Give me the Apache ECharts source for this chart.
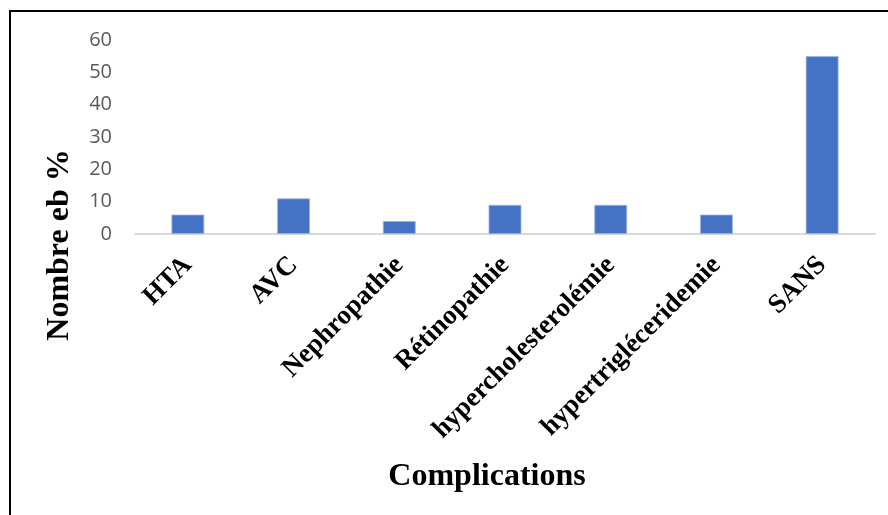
<!DOCTYPE html>
<html>
<head>
<meta charset="utf-8">
<script src="https://cdn.jsdelivr.net/npm/echarts@6/dist/echarts.min.js"></script>
<style>
  html, body { margin: 0; padding: 0; background: #fff; }
  #chart { width: 888px; height: 515px; }
</style>
</head>
<body>
<div id="chart"></div>
<script>
// Complications observed (percentage of patients)
const categories = ['HTA', 'AVC', 'Nephropathie', 'Rétinopathie', 'hypercholesterolémie', 'hypertrigléceridemie', 'SANS'];
const values = [6, 11, 4, 9, 9, 6, 55];
const yTicks = { min: 0, max: 60, interval: 10 };
const yTitle = 'Nombre eb %';
const xTitle = 'Complications';

const chart = echarts.init(document.getElementById('chart'), null, { renderer: 'canvas' });

chart.setOption({
  animation: false,
  backgroundColor: '#ffffff',
  grid: { left: 135, right: 13, top: 40, bottom: 281, containLabel: false },
  xAxis: {
    type: 'category',
    data: categories,
    axisLine: { show: true, lineStyle: { color: '#d9d9d9', width: 2 } },
    axisTick: { show: false },
    axisLabel: {
      rotate: 45,
      interval: 0,
      margin: 27,
      fontFamily: 'Liberation Serif',
      fontWeight: 'bold',
      fontSize: 27,
      color: '#000000'
    }
  },
  yAxis: {
    type: 'value',
    min: yTicks.min,
    max: yTicks.max,
    interval: yTicks.interval,
    axisLine: { show: false },
    axisTick: { show: false },
    splitLine: { show: false },
    axisLabel: {
      margin: 23,
      fontFamily: 'Open Sans',
      fontSize: 20,
      color: '#595959'
    }
  },
  series: [{
    type: 'bar',
    data: values,
    barWidth: '31%',
    itemStyle: { color: '#4472c4', borderColor: '#9db3e0', borderWidth: 0.8 }
  }],
  graphic: [
    {
      type: 'rect',
      silent: true,
      shape: { x: 10, y: 11, width: 1000, height: 1000 },
      style: { fill: 'none', stroke: '#000000', lineWidth: 2 }
    },
    {
      type: 'text',
      silent: true,
      x: 60, y: 245,
      rotation: Math.PI / 2,
      style: {
        text: yTitle,
        font: 'bold 32px "Liberation Serif"',
        fill: '#000000',
        align: 'center',
        verticalAlign: 'middle'
      }
    },
    {
      type: 'text',
      silent: true,
      x: 487, y: 477,
      style: {
        text: xTitle,
        font: 'bold 32px "Liberation Serif"',
        fill: '#000000',
        align: 'center',
        verticalAlign: 'middle'
      }
    }
  ]
});
</script>
</body>
</html>
